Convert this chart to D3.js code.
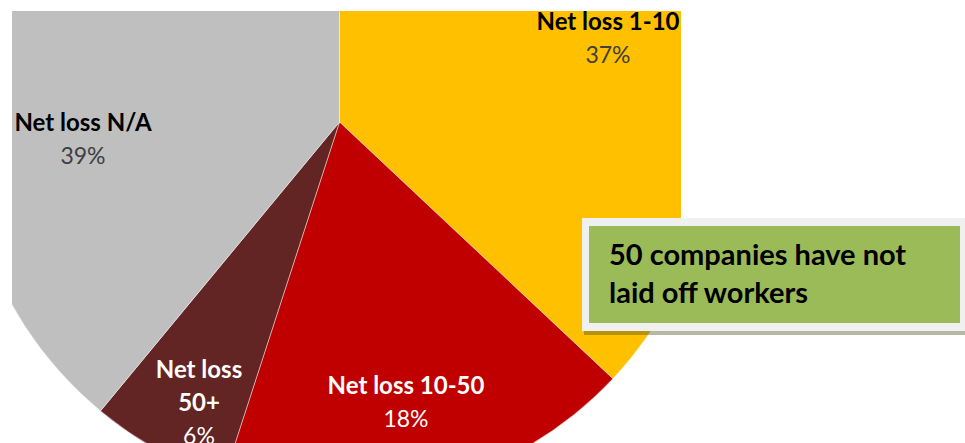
<!DOCTYPE html>
<html>
<head>
<meta charset="utf-8">
<script src="https://cdn.jsdelivr.net/npm/d3@7"></script>
<style>
  body { margin: 0; background: #fff; }
  svg { display: block; }
  text { font-family: Lato, "Open Sans", sans-serif; }
</style>
</head>
<body>
<div id="chart"></div>
<script>
// data
const categories = ['Net loss 1-10', 'Net loss 10-50', 'Net loss 50+', 'Net loss N/A'];
const shares = [37, 18, 6, 39];
const sliceColors = ['#ffc000', '#c00000', '#632523', '#bfbfbf'];
const labelLines = [['Net loss 1-10'], ['Net loss 10-50'], ['Net loss', '50+'], ['Net loss N/A']];
const noteLines = ['50 companies have not', 'laid off workers'];

// layout
const width = 965,
  height = 443,
  cx = 339.5,
  cy = 122,
  radius = 375;
const frame = { x: 12, y: 11, w: 669, h: 432 };
// first baseline of each label block
const labelAt = [[608, 30], [406, 394], [199, 378], [83, 131]];
const labelInk = [
  { title: '#000', pct: '#404040' },
  { title: '#fff', pct: '#fff' },
  { title: '#fff', pct: '#fff' },
  { title: '#000', pct: '#404040' },
];
const lineGap = 33;

const svg = d3.select('#chart')
  .append('svg')
  .attr('width', width)
  .attr('height', height);

svg.append('clipPath')
  .attr('id', 'frame')
  .append('rect')
  .attr('x', frame.x)
  .attr('y', frame.y)
  .attr('width', frame.w)
  .attr('height', frame.h);

const pie = d3.pie()
  .value(d => d)
  .sort(null);
const arc = d3.arc()
  .innerRadius(0)
  .outerRadius(radius);

const slices = pie(shares);

const g = svg.append('g')
  .attr('clip-path', 'url(#frame)');

g.append('g')
  .attr('transform', 'translate(' + cx + ',' + cy + ')')
  .selectAll('path')
  .data(slices)
  .enter()
  .append('path')
  .attr('d', arc)
  .attr('fill', (d, i) => sliceColors[i])
  .attr('stroke', 'rgba(255,255,255,0.55)')
  .attr('stroke-width', 0.8);

// slice labels
const labels = g.selectAll('g.label')
  .data(slices)
  .enter()
  .append('g')
  .attr('class', 'label')
  .attr('transform', (d, i) => 'translate(' + labelAt[i][0] + ',' + labelAt[i][1] + ')');

labels.each(function (d, i) {
  const el = d3.select(this);
  const lines = labelLines[i];
  lines.forEach((t, k) => {
    el.append('text')
      .attr('y', k * lineGap)
      .attr('text-anchor', 'middle')
      .attr('font-size', 24)
      .attr('font-weight', 700)
      .attr('fill', labelInk[i].title)
      .text(t);
  });
  el.append('text')
    .attr('y', lines.length * lineGap)
    .attr('text-anchor', 'middle')
    .attr('font-size', 23)
    .attr('fill', labelInk[i].pct)
    .text(d.data + '%');
});

// call-out box
const box = svg.append('g');
box.append('rect')
  .attr('x', 584)
  .attr('y', 222)
  .attr('width', 400)
  .attr('height', 113)
  .attr('fill', 'rgba(70,80,30,0.4)');
box.append('rect')
  .attr('x', 582)
  .attr('y', 218)
  .attr('width', 400)
  .attr('height', 113)
  .attr('fill', '#f0f0f0');
box.append('rect')
  .attr('x', 589)
  .attr('y', 226)
  .attr('width', 371)
  .attr('height', 97)
  .attr('fill', '#9bbb59');
box.selectAll('text')
  .data(noteLines)
  .enter()
  .append('text')
  .attr('x', 609)
  .attr('y', (d, i) => 265 + i * 38)
  .attr('font-size', 29)
  .attr('font-weight', 700)
  .attr('fill', '#000')
  .text(d => d);
</script>
</body>
</html>
